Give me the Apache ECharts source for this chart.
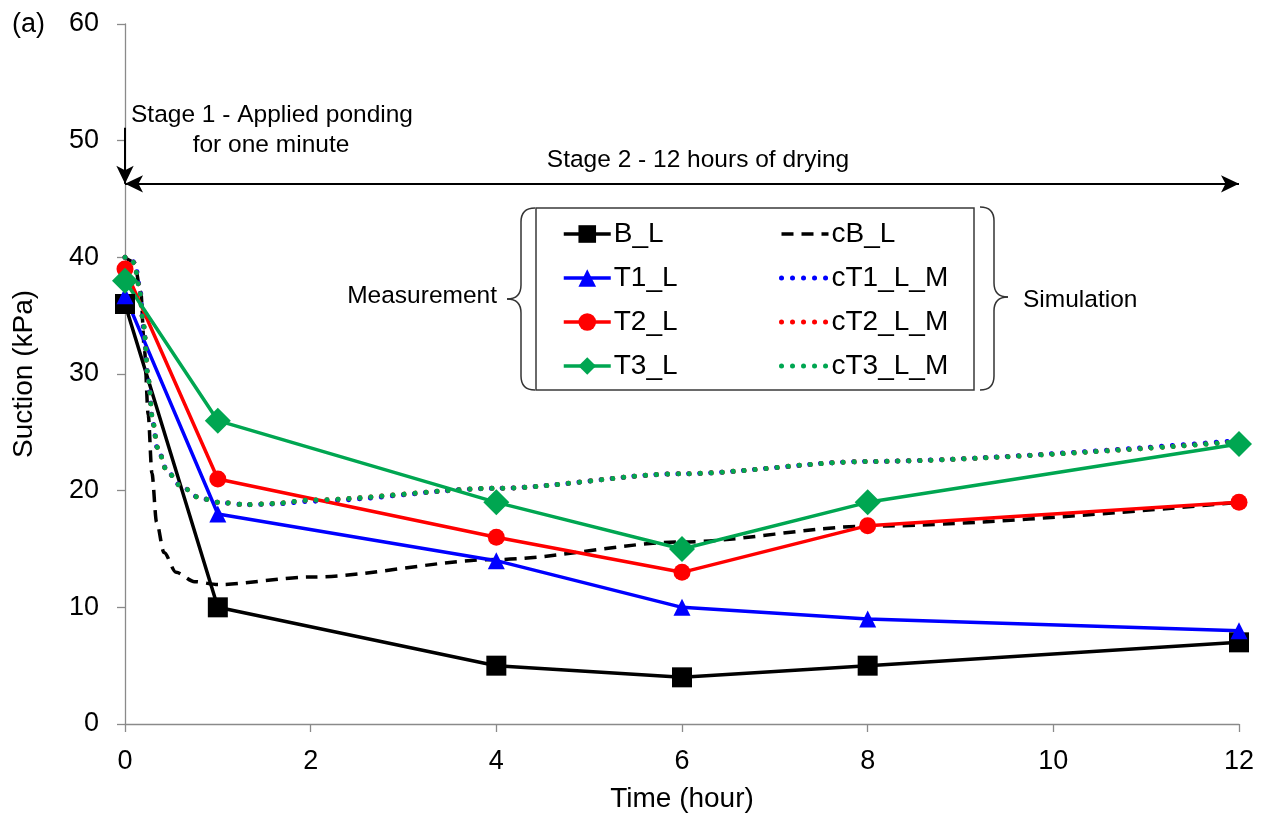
<!DOCTYPE html>
<html>
<head>
<meta charset="utf-8">
<script src="https://cdn.jsdelivr.net/npm/echarts@6/dist/echarts.min.js"></script>
<style>
  html, body { margin: 0; padding: 0; background: #fff; }
  #chart { width: 1267px; height: 818px; }
</style>
</head>
<body>
<div id="chart"></div>
<script>
// Measured suction (kPa) at each reading time (hour)
const measureTimes = [0, 1, 4, 6, 8, 12];
const bL  = [36, 10, 5, 4, 5, 7];
const t1L = [36.7, 18, 14, 10, 9, 8];
const t2L = [39, 21, 16, 13, 17, 19];
const t3L = [38, 26, 19, 15, 19, 24];

// Simulated suction curves: [time (hour), suction (kPa)]
const cBL = [[0, 40], [0.1, 39.6], [0.17, 37], [0.21, 32], [0.25, 26.5], [0.29, 21.5], [0.34, 17.3],
  [0.42, 14.7], [0.55, 13], [0.75, 12.2], [1, 11.95], [2, 12.6], [4, 14.1],
  [6, 15.6], [8, 16.95], [12, 19]];
const cT1LM = [[0, 40], [0.06, 40], [0.11, 39.4], [0.16, 37.4], [0.2, 34], [0.25, 29.5], [0.3, 25.8],
  [0.35, 23.6], [0.46, 21.6], [0.6, 20.4], [0.8, 19.4], [1, 19], [1.3, 18.8], [1.6, 18.85], [2, 19.1],
  [4, 20.2], [6, 21.45], [8, 22.5], [12, 24.3]];
const cT2LM = [[0, 40], [0.05, 40], [0.1, 39.5], [0.15, 37.6], [0.2, 34.2], [0.25, 29.6], [0.3, 25.9],
  [0.35, 23.7], [0.45, 21.7], [0.6, 20.4], [0.8, 19.4], [1, 19], [1.3, 18.8], [1.6, 18.9], [2, 19.2],
  [4, 20.2], [6, 21.45], [8, 22.5], [12, 24.2]];
const cT3LM = [[0, 40], [0.05, 40], [0.1, 39.5], [0.15, 37.6], [0.2, 34.2], [0.25, 29.6], [0.3, 25.9],
  [0.35, 23.7], [0.45, 21.7], [0.6, 20.4], [0.8, 19.4], [1, 19], [1.3, 18.8], [1.6, 18.9], [2, 19.2],
  [4, 20.2], [6, 21.45], [8, 22.5], [12, 24.2]];

// Axis ticks
const xTicks = [0, 2, 4, 6, 8, 10, 12];
const yTicks = [0, 10, 20, 30, 40, 50, 60];

// Legend columns
const measuredNames = ['B_L', 'T1_L', 'T2_L', 'T3_L'];
const simulatedNames = ['cB_L', 'cT1_L_M', 'cT2_L_M', 'cT3_L_M'];

// Stage markers (suction level of the stage arrows)
const stageArrowLevel = 46.3;
const stage1ArrowTop = 51.1;

const FONT = 'Liberation Sans, Arial, sans-serif';
const AXIS_GRAY = '#8a8a8a';
const BLUE = '#0000ff', RED = '#ff0000', GREEN = '#00a651', BLACK = '#000000';
const DOTS = [0.01, 11];

const pair = (xs, ys) => xs.map((x, i) => [x, ys[i]]);

function measured(name, ys, color, symbol, size) {
  return {
    name, type: 'line', data: pair(measureTimes, ys),
    symbol, symbolSize: size, showSymbol: true,
    lineStyle: { color, width: 3.5 }, itemStyle: { color },
    emphasis: { disabled: true }, z: 3
  };
}
function simulated(name, pts, color, dash, width, cap) {
  return {
    name, type: 'line', data: pts, symbol: 'none',
    smooth: 0.3, smoothMonotone: 'x',
    lineStyle: { color, width, type: dash, cap: cap || 'butt' },
    itemStyle: { color },
    emphasis: { disabled: true }, z: 3
  };
}

// Curly brace built from quadratic curves and straight pieces.
// dir = -1 points the tip left, +1 points it right.
function brace(x, top, bottom, tipY, dir) {
  const r = 14;
  const st = { fill: 'none', stroke: '#333', lineWidth: 1.5 };
  const endX = x - dir * r;
  const tipX = x + dir * r;
  return [
    { type: 'bezierCurve', z: 1, shape: { x1: endX, y1: top, cpx1: x, cpy1: top, x2: x, y2: top + r }, style: st },
    { type: 'line', z: 1, shape: { x1: x, y1: top + r, x2: x, y2: tipY - r }, style: st },
    { type: 'bezierCurve', z: 1, shape: { x1: x, y1: tipY - r, cpx1: x, cpy1: tipY, x2: tipX, y2: tipY }, style: st },
    { type: 'bezierCurve', z: 1, shape: { x1: tipX, y1: tipY, cpx1: x, cpy1: tipY, x2: x, y2: tipY + r }, style: st },
    { type: 'line', z: 1, shape: { x1: x, y1: tipY + r, x2: x, y2: bottom - r }, style: st },
    { type: 'bezierCurve', z: 1, shape: { x1: x, y1: bottom - r, cpx1: x, cpy1: bottom, x2: endX, y2: bottom }, style: st }
  ];
}

const chart = echarts.init(document.getElementById('chart'), null, { renderer: 'canvas' });

const bSeries = measured('B_L', bL, BLACK, 'rect', 20);
bSeries.markLine = {
  silent: true, animation: false,
  label: { show: false },
  lineStyle: { color: '#000', width: 2, type: 'solid' },
  symbol: ['arrow', 'arrow'], symbolSize: [13, 18],
  data: [
    [{ coord: [xTicks[0], stageArrowLevel] }, { coord: [xTicks[xTicks.length - 1], stageArrowLevel] }],
    [{ coord: [xTicks[0], stage1ArrowTop], symbol: 'none' }, { coord: [xTicks[0], stageArrowLevel], symbol: 'arrow' }]
  ]
};

const legendBase = {
  orient: 'vertical', top: 220, padding: 0,
  itemWidth: 47, itemHeight: 22, itemGap: 16,
  lineStyle: { width: 'inherit' },
  selectedMode: false
};

const option = {
  animation: false,
  backgroundColor: '#fff',
  textStyle: { fontFamily: FONT, color: '#000' },
  grid: { left: 125, right: 28, top: 24, bottom: 91, containLabel: false },
  xAxis: {
    type: 'value', min: xTicks[0], max: xTicks[xTicks.length - 1], interval: 2,
    name: 'Time (hour)', nameLocation: 'middle', nameGap: 61,
    nameTextStyle: { fontSize: 28, color: '#000', fontFamily: FONT },
    axisLine: { lineStyle: { color: AXIS_GRAY, width: 1.3 } },
    axisTick: { show: true, length: 8, inside: false, lineStyle: { color: AXIS_GRAY, width: 1.3 } },
    axisLabel: { fontSize: 27, color: '#000', margin: 24, fontFamily: FONT },
    splitLine: { show: false }
  },
  yAxis: {
    type: 'value', min: yTicks[0], max: yTicks[yTicks.length - 1], interval: 10,
    name: 'Suction (kPa)', nameLocation: 'middle', nameGap: 87,
    nameTextStyle: { fontSize: 28, color: '#000', fontFamily: FONT },
    axisLine: { show: true, lineStyle: { color: AXIS_GRAY, width: 1.3 } },
    axisTick: { show: true, length: 8, inside: false, lineStyle: { color: AXIS_GRAY, width: 1.3 } },
    axisLabel: { fontSize: 27, color: '#000', margin: 26, fontFamily: FONT },
    splitLine: { show: false }
  },
  legend: [
    Object.assign({}, legendBase, {
      data: measuredNames, left: 562,
      textStyle: { fontSize: 28, color: '#000', fontFamily: FONT, padding: [0, 0, 0, -2] }
    }),
    Object.assign({}, legendBase, {
      data: simulatedNames.map(n => ({ name: n, itemStyle: { opacity: 0 } })), left: 779,
      textStyle: { fontSize: 28, color: '#000', fontFamily: FONT, padding: [0, 0, 0, -2] }
    })
  ],
  graphic: [
    // legend frame and braces
    { type: 'rect', z: 1, shape: { x: 536, y: 208, width: 438, height: 182 },
      style: { fill: '#fff', stroke: '#3a3a3a', lineWidth: 1.5 } },
    ...brace(521, 208, 390, 299, -1),
    ...brace(994, 207, 390, 297, 1),
    { type: 'text', x: 497, y: 296, style: { text: 'Measurement', font: '24.5px ' + FONT, fill: '#000', textAlign: 'right', textVerticalAlign: 'middle' } },
    { type: 'text', x: 1023, y: 300, style: { text: 'Simulation', font: '24.5px ' + FONT, fill: '#000', textAlign: 'left', textVerticalAlign: 'middle' } },
    // stage captions
    { type: 'text', x: 272, y: 115, style: { text: 'Stage 1 - Applied ponding', font: '24.5px ' + FONT, fill: '#000', textAlign: 'center', textVerticalAlign: 'middle' } },
    { type: 'text', x: 271, y: 145, style: { text: 'for one minute', font: '24.5px ' + FONT, fill: '#000', textAlign: 'center', textVerticalAlign: 'middle' } },
    { type: 'text', x: 698, y: 160, style: { text: 'Stage 2 - 12 hours of drying', font: '24.5px ' + FONT, fill: '#000', textAlign: 'center', textVerticalAlign: 'middle' } },
    // panel tag
    { type: 'text', x: 12, y: 25, style: { text: '(a)', font: '27px ' + FONT, fill: '#000', textAlign: 'left', textVerticalAlign: 'middle' } }
  ],
  series: [
    bSeries,
    simulated('cB_L', cBL, BLACK, [12, 8], 3.5),
    measured('T1_L', t1L, BLUE, 'triangle', 17),
    simulated('cT1_L_M', cT1LM, BLUE, DOTS, 5, 'round'),
    measured('T2_L', t2L, RED, 'circle', 17),
    simulated('cT2_L_M', cT2LM, RED, DOTS, 5, 'round'),
    measured('T3_L', t3L, GREEN, 'diamond', 26),
    simulated('cT3_L_M', cT3LM, GREEN, DOTS, 5, 'round')
  ]
};

chart.setOption(option);
</script>
</body>
</html>
